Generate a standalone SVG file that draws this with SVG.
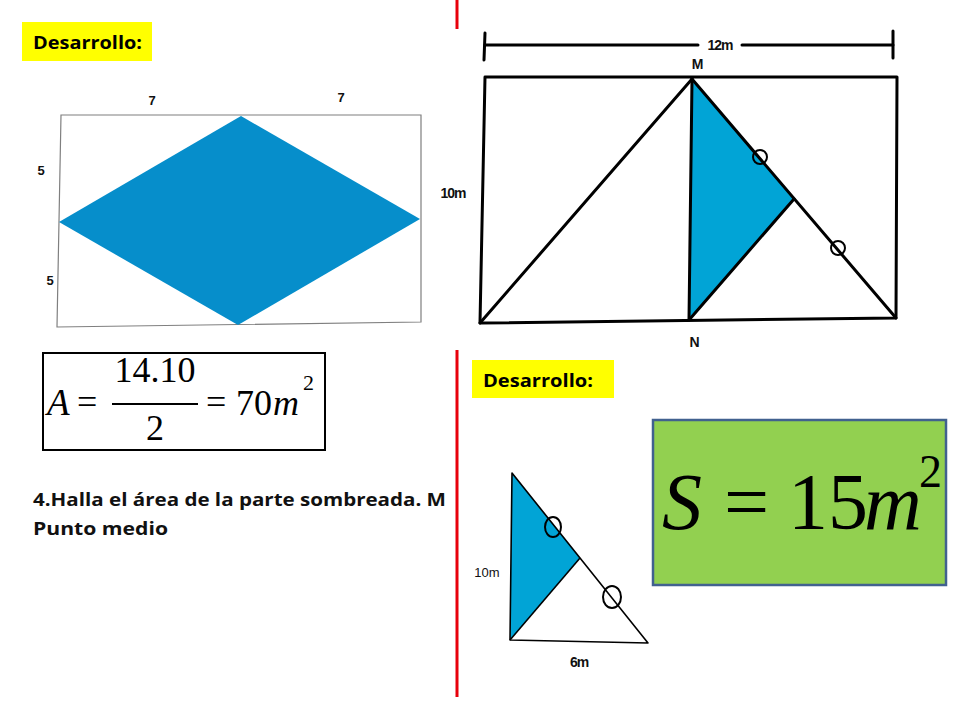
<svg xmlns="http://www.w3.org/2000/svg" width="960" height="720" viewBox="0 0 960 720">
<style>
.hl{fill:#ffff00}
.ht{font-family:"Open Sans","Lato",sans-serif;font-weight:bold;font-size:17px;fill:#000}
.red{stroke:#e8000b;stroke-width:3}
.lbl{font-family:"Liberation Sans",Arial,sans-serif;font-weight:bold;font-size:13px;fill:#111}
.blk{font-family:"Liberation Sans",Arial,sans-serif;font-weight:bold;font-size:14px;fill:#111;letter-spacing:-1px}
.th{stroke:#000;stroke-width:3;fill:none;stroke-linecap:round;stroke-linejoin:round}
.tn{stroke:#000;stroke-width:2;fill:none}
.math{font-family:"Liberation Serif","Times New Roman",serif;fill:#000}
.q{font-family:"Open Sans","Lato",sans-serif;font-weight:bold;font-size:18px;fill:#111}
</style>
<rect width="960" height="720" fill="#fff"/>

<g id="header-left">
<rect class="hl" x="22" y="22" width="130" height="39"/>
<text class="ht" x="33" y="49" textLength="109" lengthAdjust="spacingAndGlyphs">Desarrollo:</text>
</g>

<g id="dividers">
<line class="red" x1="457" y1="0" x2="457" y2="29"/>
<line class="red" x1="457" y1="350" x2="457" y2="697"/>
</g>

<g id="rhombus-figure">
<polygon points="61,115 421,115 421,322 57,327" fill="none" stroke="#7f7f7f" stroke-width="1.2"/>
<polygon points="241,116 420,219 238,325 59,222" fill="#068ecb"/>
<text class="lbl" x="152" y="105" text-anchor="middle">7</text>
<text class="lbl" x="341" y="102" text-anchor="middle">7</text>
<text class="lbl" x="41" y="175" text-anchor="middle">5</text>
<text class="lbl" x="50" y="285" text-anchor="middle">5</text>
</g>

<g id="formula-a">
<rect x="43" y="353" width="282" height="97" fill="#fff" stroke="#000" stroke-width="2"/>
<text class="math" x="47" y="415" font-size="37" font-style="italic">A</text>
<text class="math" x="77" y="414" font-size="36">=</text>
<text class="math" x="155" y="382" font-size="36" text-anchor="middle">14.10</text>
<line x1="112" y1="404" x2="198" y2="404" stroke="#000" stroke-width="2"/>
<text class="math" x="155" y="440" font-size="36" text-anchor="middle">2</text>
<text class="math" x="206" y="414" font-size="36">=</text>
<text class="math" x="236" y="415" font-size="36">70</text>
<text class="math" x="273" y="415" font-size="36" font-style="italic">m</text>
<text class="math" x="303" y="390" font-size="22">2</text>
</g>

<g id="question">
<text class="q" x="33" y="506" textLength="413" lengthAdjust="spacingAndGlyphs">4.Halla el área de la parte sombreada. M</text>
<text class="q" x="33" y="535" textLength="135" lengthAdjust="spacingAndGlyphs">Punto medio</text>
</g>

<g id="rectangle-figure">
<line class="th" x1="485" y1="45" x2="698" y2="45"/>
<line class="th" x1="742" y1="45" x2="893" y2="45"/>
<line class="th" x1="485" y1="33" x2="484" y2="60"/>
<line class="th" x1="893" y1="31" x2="893" y2="58"/>
<text class="blk" x="720" y="50" text-anchor="middle">12m</text>
<text class="blk" x="697" y="69" text-anchor="middle">M</text>
<polygon points="692,79 689,320 794,199" fill="#01a4d6"/>
<polygon class="th" points="485,77 897,77 896,318 480,323"/>
<line class="th" x1="480" y1="323" x2="692" y2="79"/>
<line class="th" x1="692" y1="79" x2="896" y2="318"/>
<line class="th" x1="692" y1="79" x2="689" y2="320"/>
<line class="th" x1="689" y1="320" x2="794" y2="199"/>
<circle class="tn" cx="760" cy="157" r="7"/>
<circle class="tn" cx="838" cy="248" r="7"/>
<text class="blk" x="453" y="198" text-anchor="middle">10m</text>
<text class="blk" x="694" y="347" text-anchor="middle">N</text>
</g>

<g id="header-right">
<rect class="hl" x="472" y="360" width="142" height="38"/>
<text class="ht" x="483" y="387" textLength="110" lengthAdjust="spacingAndGlyphs">Desarrollo:</text>
</g>

<g id="triangle-figure">
<polygon points="512,473 510,640 580,558" fill="#01a4d6"/>
<polygon points="512,473 510,640 648,643" fill="none" stroke="#000" stroke-width="1.6" stroke-linejoin="round"/>
<line x1="510" y1="640" x2="580" y2="558" stroke="#000" stroke-width="1.6"/>
<ellipse class="tn" cx="553" cy="527" rx="8" ry="10"/>
<ellipse class="tn" cx="612" cy="597" rx="9" ry="11"/>
<text x="487" y="577" text-anchor="middle" font-family="Liberation Sans,Arial,sans-serif" font-size="13" fill="#111">10m</text>
<text class="blk" x="579" y="667" text-anchor="middle" font-size="13">6m</text>
</g>

<g id="result">
<rect x="653" y="420" width="293" height="165" fill="#92d050" stroke="#41618f" stroke-width="2.5"/>
<text class="math" x="662" y="529" font-size="80" font-style="italic">S</text>
<text class="math" x="724" y="529" font-size="80">=</text>
<text class="math" x="788" y="529" font-size="80">15</text>
<text class="math" x="864" y="529" font-size="80" font-style="italic">m</text>
<text class="math" x="919" y="487" font-size="46">2</text>
</g>
</svg>
